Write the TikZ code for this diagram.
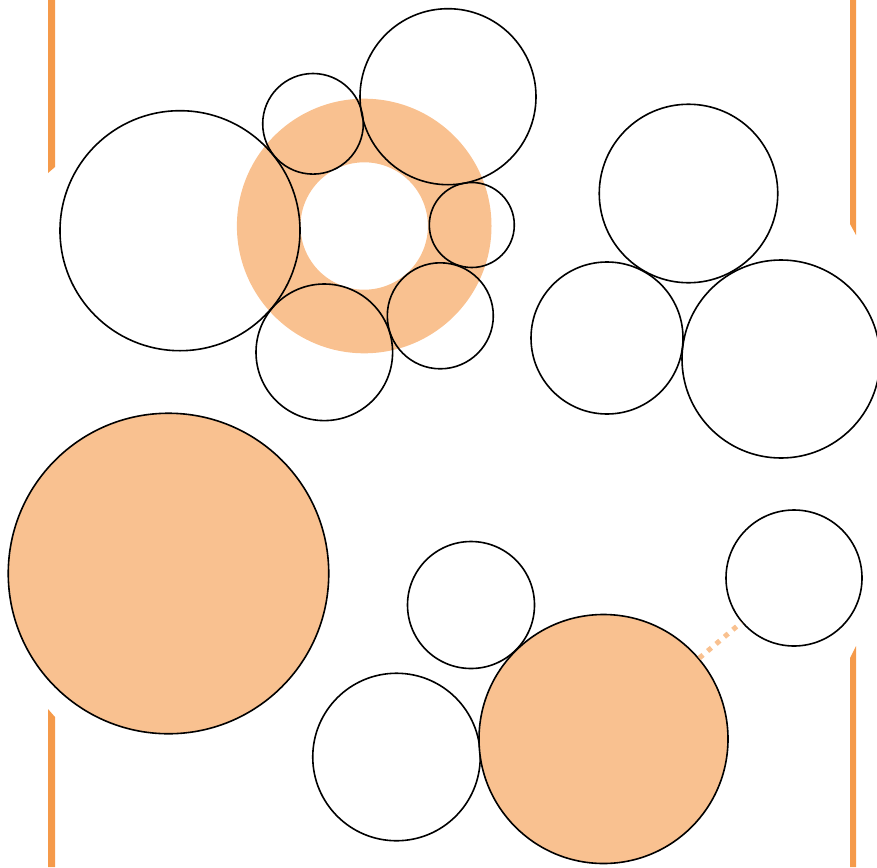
\documentclass[tikz,border=0pt]{standalone}
\begin{document}
\begin{tikzpicture}[x=1pt,y=-1pt,
  peach/.style={fill={rgb,255:red,249;green,193;blue,144}},
  bar/.style={fill={rgb,255:red,245;green,154;blue,74}},
  ringc/.style={circle,draw=black,line width=1.6pt,inner sep=0pt,minimum size=#1},
  orangec/.style={circle,draw=black,line width=1.6pt,inner sep=0pt,minimum size=#1,fill={rgb,255:red,249;green,193;blue,144}},
  dotline/.style={draw={rgb,255:red,249;green,193;blue,144},line width=5pt,dash pattern=on 5pt off 6pt}]
\useasboundingbox (0,0) rectangle (877,867);
% orange side bars
\fill[bar] (48,0) -- (55,0) -- (55,167) -- (48,173) -- cycle;
\fill[bar] (48,709) -- (55,717) -- (55,867) -- (48,867) -- cycle;
\fill[bar] (850,0) -- (856,0) -- (856,235) -- (850,224) -- cycle;
\fill[bar] (850,658) -- (856,646) -- (856,867) -- (850,867) -- cycle;
% ring
\fill[peach,even odd rule] (364.2,226) circle[radius=127.3] (364.2,226) circle[radius=63.7];
% circles
\node[ringc=240pt] (c1) at (180,230.7) {};
\node[ringc=100.6pt] (c2) at (313,123.8) {};
\node[ringc=176pt] (c3) at (448,96.7) {};
\node[ringc=85pt] (c4) at (471.8,225) {};
\node[ringc=106pt] (c5) at (440.3,315.8) {};
\node[ringc=136.6pt] (c6) at (324.3,352.3) {};
\node[ringc=178.5pt] (c7) at (688.5,193.5) {};
\node[ringc=152pt] (c8) at (607,338) {};
\node[ringc=198pt] (c9) at (781,359) {};
\node[orangec=320.5pt] (o1) at (168.5,573.5) {};
\node[ringc=127pt] (c11) at (471,605) {};
\node[ringc=167.5pt] (c12) at (396.5,757) {};
\node[orangec=249pt] (o2) at (603.5,739) {};
\node[ringc=136pt] (c14) at (794,578) {};
\draw[dotline] (o2) -- (c14);
\end{tikzpicture}
\end{document}
